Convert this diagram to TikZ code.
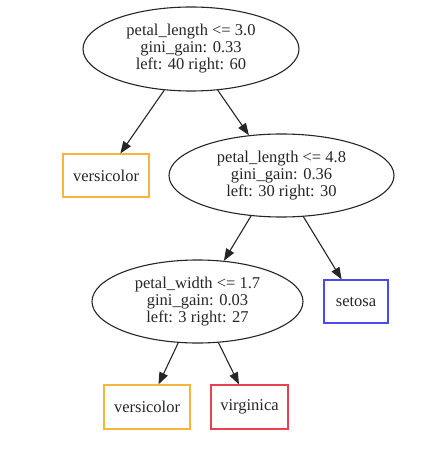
\documentclass[tikz,border=0pt]{standalone}
\usepackage{fontspec}
\setmainfont{Liberation Serif}
\usetikzlibrary{shapes.geometric,arrows.meta}
\definecolor{gvorange}{HTML}{F7B53C}
\definecolor{gvblue}{HTML}{4A4AF0}
\definecolor{gvred}{HTML}{E84050}
\definecolor{ink}{HTML}{262626}
\begin{document}
\begin{tikzpicture}[x=1pt,y=-1pt,
  every node/.style={font=\fontsize{16.5}{17}\selectfont, text=ink, align=center, inner sep=0pt},
  split/.style={ellipse, draw=ink, line width=1.1pt},
  leaf/.style={rectangle, line width=1.1pt, minimum height=43pt},
  edge/.style={draw=ink, line width=1.1pt, -{Triangle[length=12pt,width=9pt]}}]
\useasboundingbox (0,0) rectangle (423,462);
\node[split, minimum width=216pt, minimum height=84pt] (root) at (191,49)
  {petal\_length <= 3.0\\gini\_gain: 0.33\\left: 40 right: 60};
\node[leaf, draw=gvorange, minimum width=86pt] (v1) at (106,175.5) {versicolor};
\node[split, minimum width=225pt, minimum height=83pt] (n2) at (281.5,175.5)
  {petal\_length <= 4.8\\gini\_gain: 0.36\\left: 30 right: 30};
\node[split, minimum width=211pt, minimum height=83pt] (n3) at (197.5,301.5)
  {petal\_width <= 1.7\\gini\_gain: 0.03\\left: 3 right: 27};
\node[leaf, draw=gvblue, minimum width=64pt] (se) at (356,301.5) {setosa};
\node[leaf, draw=gvorange, minimum width=86pt, minimum height=44pt] (v2) at (147,407) {versicolor};
\node[leaf, draw=gvred, minimum width=77pt, minimum height=44pt] (vi) at (249.5,407) {virginica};
\draw[edge] (root.-123.7) -- (v1.57);
\draw[edge] (root.-57.3) -- (n2.129.3);
\draw[edge] (n2.-127.4) -- (n3.57.7);
\draw[edge] (n2.-62.2) -- (se.123);
\draw[edge] (n3.-115.5) -- (v2.63.4);
\draw[edge] (n3.-63.3) -- (vi.115.5);
\end{tikzpicture}
\end{document}
